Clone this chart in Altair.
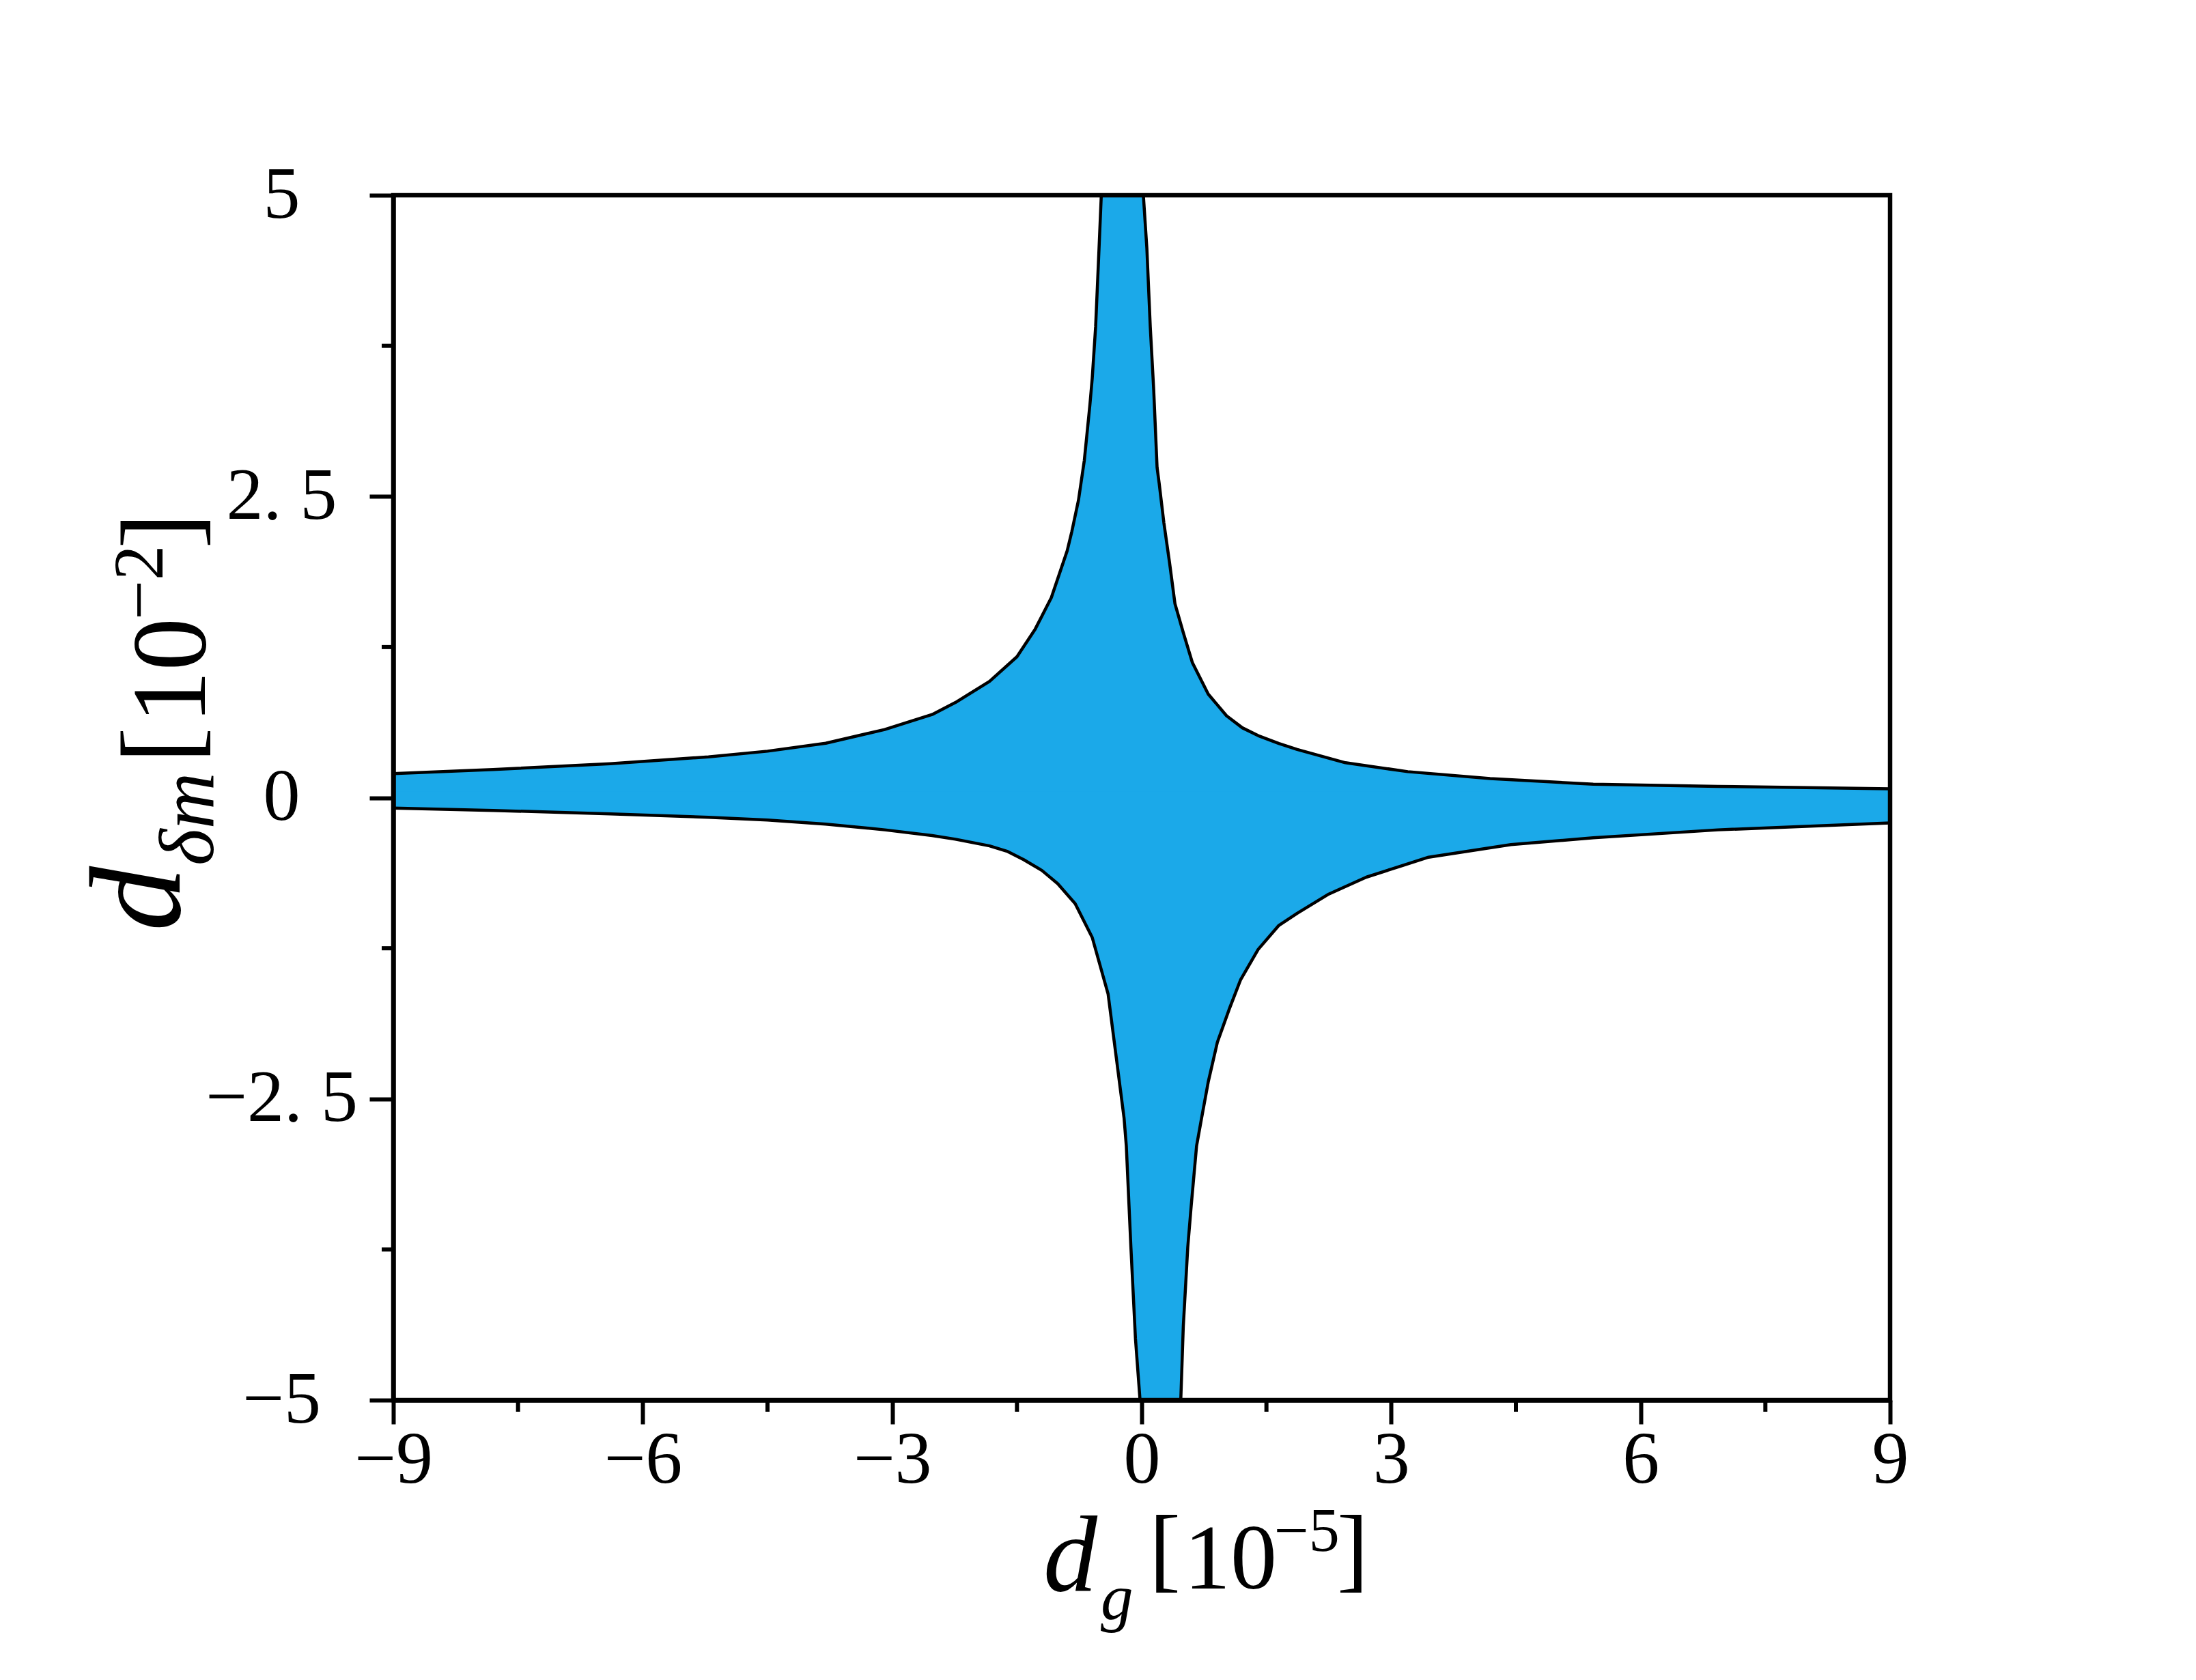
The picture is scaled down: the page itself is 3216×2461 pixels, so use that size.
import altair as alt
import pandas as pd

# ---- boundary curves (x in 1e-5, y in 1e-2) ----
ul_x = [-9.0, -7.8, -6.39, -5.21, -4.5, -3.8, -3.09, -2.52, -2.24, -1.83, -1.5, -1.28,
        -1.087, -0.896, -0.84, -0.76, -0.69, -0.623, -0.595, -0.554, -0.513, -0.486]
ul_y = [0.20, 0.234, 0.282, 0.339, 0.386, 0.452, 0.566, 0.69, 0.79, 0.965, 1.17, 1.40,
        1.66, 2.05, 2.21, 2.47, 2.80, 3.26, 3.48, 3.91, 4.56, 5.0]

ur_x = [0.02, 0.062, 0.103, 0.144, 0.185, 0.21, 0.267, 0.335, 0.40, 0.50, 0.61, 0.80,
        1.02, 1.21, 1.40, 1.65, 1.87, 2.45, 3.20, 4.19, 5.43, 6.93, 9.0]
ur_y = [5.0, 4.56, 3.91, 3.39, 2.74, 2.61, 2.28, 1.95, 1.61, 1.37, 1.12, 0.86,
        0.68, 0.58, 0.515, 0.45, 0.40, 0.29, 0.216, 0.159, 0.112, 0.094, 0.074]

ll_x = [-9.0, -7.8, -6.39, -5.21, -4.5, -3.8, -3.09, -2.52, -2.24, -1.83, -1.61, -1.42,
        -1.20, -1.01, -0.80, -0.595, -0.404, -0.212, -0.185, -0.13, -0.075, -0.02]
ll_y = [-0.087, -0.106, -0.134, -0.163, -0.185, -0.219, -0.267, -0.314, -0.345, -0.40, -0.447, -0.514,
        -0.604, -0.714, -0.88, -1.16, -1.63, -2.66, -2.89, -3.73, -4.49, -5.0]

lr_x = [0.47, 0.50, 0.554, 0.595, 0.66, 0.72, 0.80, 0.91, 1.05, 1.19, 1.40, 1.65,
        1.87, 2.25, 2.70, 3.45, 4.44, 5.43, 6.93, 9.0]
lr_y = [-5.0, -4.39, -3.73, -3.39, -2.89, -2.66, -2.36, -2.03, -1.76, -1.51, -1.26, -1.06,
        -0.96, -0.80, -0.66, -0.494, -0.39, -0.333, -0.267, -0.21]

x_ticks = [-9, -6, -3, 0, 3, 6, 9]
x_tick_labels = ["−9", "−6", "−3", "0", "3", "6", "9"]
x_minor = [-7.5, -4.5, -1.5, 1.5, 4.5, 7.5]
y_ticks = [-5, -2.5, 0, 2.5, 5]
y_tick_labels = ["−5", "−2. 5", "0", "2. 5", "5"]
y_minor = [-3.75, -1.25, 1.25, 3.75]

FILL = "#1BA9E9"
FONT = "Liberation Serif"
W, H = 2192, 1765

upper = pd.DataFrame({"x": ul_x + ur_x, "y": ul_y + ur_y,
                      "seg": ["ul"] * len(ul_x) + ["ur"] * len(ur_x)})
lower = pd.DataFrame({"x": ll_x + lr_x, "y": ll_y + lr_y,
                      "seg": ["ll"] * len(ll_x) + ["lr"] * len(lr_x)})


def label_expr(vals, labels):
    parts = [f"abs(datum.value - ({v})) < 1e-6 ? '{l}'" for v, l in zip(vals, labels)]
    return " : ".join(parts) + " : ''"


XS = alt.Scale(domain=[-9, 9], nice=False, zero=False)
YS = alt.Scale(domain=[-5, 5], nice=False, zero=False)

common_axis = dict(title=None, grid=False, tickSize=35, tickWidth=6, tickColor="black",
                   domainColor="black", domainWidth=6.5, labelFont=FONT, labelFontSize=108,
                   labelColor="black", labelFlush=False, labelOverlap=False, labelLimit=2000,
                   zindex=1)
x_axis = alt.Axis(values=x_ticks, labelExpr=label_expr(x_ticks, x_tick_labels),
                  labelAlign="center", labelBaseline="top", labelPadding=0, **common_axis)
y_axis = alt.Axis(values=y_ticks, labelExpr=label_expr(y_ticks, y_tick_labels),
                  labelAlign="center", labelBaseline="middle", labelPadding=129, **common_axis)


def X():
    return alt.X("x:Q", scale=XS, axis=x_axis)


def Y():
    return alt.Y("y:Q", scale=YS, axis=y_axis)


area_up = alt.Chart(upper).mark_area(color=FILL, opacity=1).encode(
    x=X(), y=Y(), y2=alt.datum(-0.05))
area_low = alt.Chart(lower).mark_area(color=FILL, opacity=1).encode(
    x=X(), y=Y(), y2=alt.datum(0.05))
line_up = alt.Chart(upper).mark_line(color="black", strokeWidth=4.5, strokeJoin="round").encode(
    x=X(), y=Y(), detail="seg:N")
line_low = alt.Chart(lower).mark_line(color="black", strokeWidth=4.5, strokeJoin="round").encode(
    x=X(), y=Y(), detail="seg:N")

xm = alt.Chart(pd.DataFrame({"x": x_minor})).mark_rule(color="black", strokeWidth=6).encode(
    x=X(), y=alt.value(H), y2=alt.value(H + 17))
ym = alt.Chart(pd.DataFrame({"y": y_minor})).mark_rule(color="black", strokeWidth=6).encode(
    y=Y(), x=alt.value(0), x2=alt.value(-17))

one = pd.DataFrame({"a": [0]})
frame = alt.Chart(one).mark_rect(fill=None, stroke="black", strokeWidth=6.5).encode(
    x=alt.value(0), x2=alt.value(W), y=alt.value(0), y2=alt.value(H))


def txt(s, px, py, size, italic=False, angle=0):
    kw = dict(text=s, font=FONT, fontSize=size, align="left", baseline="alphabetic",
              color="black")
    if italic:
        kw["fontStyle"] = "italic"
    if angle:
        kw["angle"] = angle
    return alt.Chart(one).mark_text(**kw).encode(x=alt.value(px), y=alt.value(py))


titles = [
    # x title: d_g [10^-5]
    txt("d", 952, 2044, 158, italic=True),
    txt("g", 1036, 2086, 95, italic=True),
    txt("[", 1107, 2029, 138),
    txt("10", 1158, 2041, 136),
    txt("−5", 1290, 1986, 90),
    txt("]", 1382, 2029, 138),
    # y title: d_{δm} [10^-2]
    txt("d", -313, 1078, 190, italic=True, angle=270),
    txt("δm", -264, 982, 115, italic=True, angle=270),
    txt("[", -289, 832, 158, angle=270),
    txt("10", -276, 774, 155, angle=270),
    txt("−2", -338, 622, 103, angle=270),
    txt("]", -289, 518, 158, angle=270),
]

chart = alt.layer(area_up, area_low, line_up, line_low, xm, ym, frame, *titles).properties(
    width=W, height=H,
    autosize=alt.AutoSizeParams(type="none"),
    padding={"left": 568, "top": 278, "right": 420, "bottom": 390},
    background="white",
).configure_view(stroke=None)

chart.save("out.html", embed_options={"renderer": "svg", "actions": False})
